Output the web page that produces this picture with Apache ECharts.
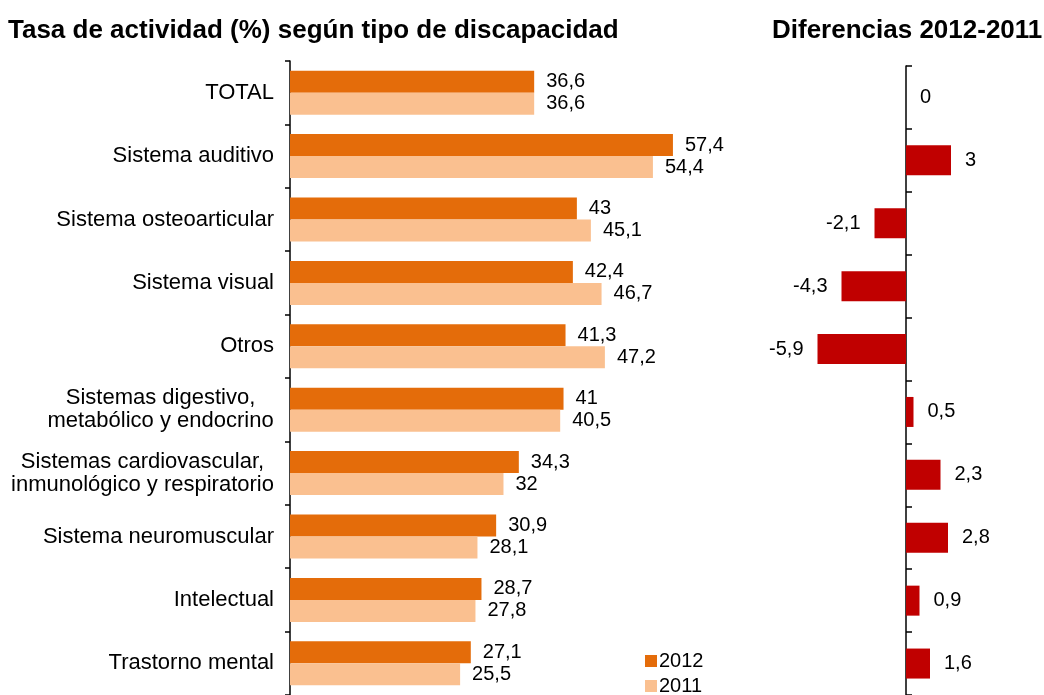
<!DOCTYPE html>
<html>
<head>
<meta charset="utf-8">
<script src="https://cdn.jsdelivr.net/npm/echarts@6/dist/echarts.min.js"></script>
<style>
html,body{margin:0;padding:0;background:#fff;}
#chart{width:1044px;height:695px;}
</style>
</head>
<body>
<div id="chart"></div>
<script>
// ---- data ----
var categories = [
  'TOTAL',
  'Sistema auditivo',
  'Sistema osteoarticular',
  'Sistema visual',
  'Otros',
  'Sistemas digestivo,\nmetabólico y endocrino',
  'Sistemas cardiovascular,\ninmunológico y respiratorio',
  'Sistema neuromuscular',
  'Intelectual',
  'Trastorno mental'
];
var values2012 = [36.6, 57.4, 43, 42.4, 41.3, 41, 34.3, 30.9, 28.7, 27.1];
var values2011 = [36.6, 54.4, 45.1, 46.7, 47.2, 40.5, 32, 28.1, 27.8, 25.5];
var diffs = [0, 3, -2.1, -4.3, -5.9, 0.5, 2.3, 2.8, 0.9, 1.6];
var seriesNames = ['2012', '2011'];
var titleLeft = 'Tasa de actividad (%) según tipo de discapacidad';
var titleRight = 'Diferencias 2012-2011';

// ---- helpers ----
var FONT = 'Liberation Sans, Arial, sans-serif';
var catSize = 22;
var valSize = 20;
var ctx = document.createElement('canvas').getContext('2d');
ctx.font = catSize + 'px ' + FONT;
var richStyles = {};
function catFormatter(v, i) {
  var lines = v.split('\n');
  if (lines.length === 1) return v;
  var w = 0;
  lines.forEach(function (l) { w = Math.max(w, ctx.measureText(l).width); });
  var key = 'c' + i;
  richStyles[key] = {width: Math.ceil(w), align: 'center', fontSize: catSize, fontFamily: FONT, color: '#000', lineHeight: 23};
  return lines.map(function (l) { return '{' + key + '|' + l + '}'; }).join('\n');
}
categories.forEach(function (c, i) { catFormatter(c, i); });
function fmt(v) { return String(v).replace('.', ','); }

var legendBase = {
  orient: 'vertical', left: 645, padding: 0,
  itemWidth: 12, itemHeight: 12, icon: 'rect',
  textStyle: {fontSize: valSize, color: '#000', fontFamily: FONT, padding: [0, 0, 0, -3]}
};

var chart = echarts.init(document.getElementById('chart'), null, {renderer: 'canvas'});
var option = {
  animation: false,
  backgroundColor: '#fff',
  textStyle: {fontFamily: FONT},
  title: [
    {text: titleLeft, left: 3, top: 13, textStyle: {fontSize: 26, fontWeight: 'bold', color: '#000', fontFamily: FONT}},
    {text: titleRight, left: 767, top: 13, textStyle: {fontSize: 26, fontWeight: 'bold', color: '#000', fontFamily: FONT}}
  ],
  legend: [
    Object.assign({}, legendBase, {data: [seriesNames[0]], top: 651}),
    Object.assign({}, legendBase, {data: [seriesNames[1]], top: 676})
  ],
  grid: [
    {left: 290, top: 61, width: 467, height: 638},
    {left: 801, top: 66, width: 225, height: 630}
  ],
  xAxis: [
    {gridIndex: 0, type: 'value', min: 0, max: 70, show: false},
    {gridIndex: 1, type: 'value', min: -7, max: 8, show: false}
  ],
  yAxis: [
    {
      gridIndex: 0, type: 'category', data: categories, inverse: true,
      axisLine: {show: true, lineStyle: {color: '#000', width: 1.5}},
      axisTick: {show: true, length: 5, lineStyle: {color: '#000', width: 1.5}},
      axisLabel: {
        margin: 16, fontSize: catSize, color: '#000', fontFamily: FONT, lineHeight: 23,
        formatter: catFormatter, rich: richStyles
      },
      splitLine: {show: false}
    },
    {
      gridIndex: 1, type: 'category', data: categories, inverse: true,
      axisLine: {show: true, onZero: true, lineStyle: {color: '#000', width: 1.5}},
      axisTick: {show: true, inside: true, length: 6, lineStyle: {color: '#000', width: 1.5}},
      axisLabel: {show: false},
      splitLine: {show: false}
    }
  ],
  series: [
    {
      name: seriesNames[0], type: 'bar', xAxisIndex: 0, yAxisIndex: 0,
      data: values2012, barWidth: 22, barGap: '0%',
      itemStyle: {color: '#E46C0A'},
      label: {show: true, position: 'right', distance: 12, fontSize: valSize, color: '#000', fontFamily: FONT,
        formatter: function (p) { return fmt(p.value); }}
    },
    {
      name: seriesNames[1], type: 'bar', xAxisIndex: 0, yAxisIndex: 0,
      data: values2011, barWidth: 22, barGap: '0%',
      itemStyle: {color: '#FAC090'},
      label: {show: true, position: 'right', distance: 12, fontSize: valSize, color: '#000', fontFamily: FONT,
        formatter: function (p) { return fmt(p.value); }}
    },
    {
      name: 'diff', type: 'bar', xAxisIndex: 1, yAxisIndex: 1,
      data: diffs.map(function (v) {
        return {value: v, label: {position: v < 0 ? 'left' : 'right'}};
      }),
      barWidth: 30,
      itemStyle: {color: '#C00000'},
      label: {show: true, distance: 14, fontSize: valSize, color: '#000', fontFamily: FONT,
        formatter: function (p) { return fmt(p.value); }}
    }
  ]
};
chart.setOption(option);
</script>
</body>
</html>
